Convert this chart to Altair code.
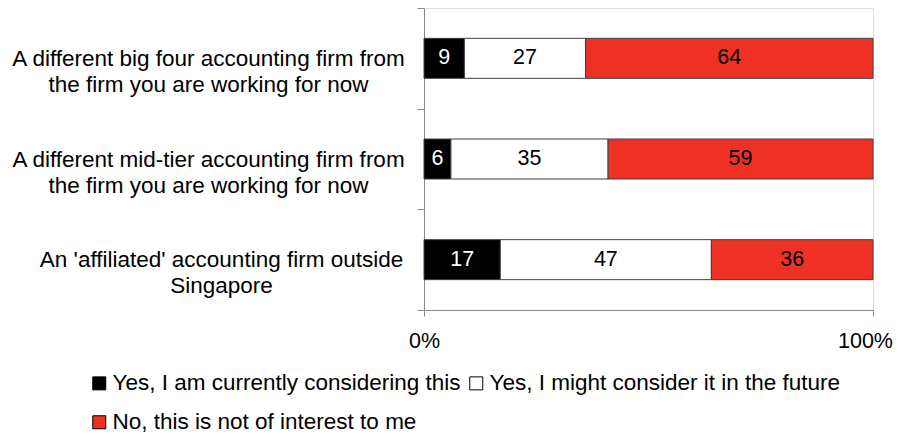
import altair as alt
import pandas as pd

categories = [
    "A different big four accounting firm from|the firm you are working for now",
    "A different mid-tier accounting firm from|the firm you are working for now",
    "An 'affiliated' accounting firm outside|Singapore",
]
responses = [
    "Yes, I am currently considering this",
    "Yes, I might consider it in the future",
    "No, this is not of interest to me",
]
current_vals = [9, 6, 17]
future_vals = [27, 35, 47]
no_vals = [64, 59, 36]
colors = ["#000000", "#FFFFFF", "#EE3124"]

rows = []
for i, c in enumerate(categories):
    for j, (r, v) in enumerate(zip(responses, [current_vals[i], future_vals[i], no_vals[i]])):
        rows.append({"category": c, "response": r, "value": v, "ord": j})
df = pd.DataFrame(rows)

FONT = "Liberation Sans"

base = alt.Chart(df).transform_stack(
    stack="value", groupby=["category"], as_=["start", "end"],
    sort=[alt.SortField("ord", order="ascending")]
).transform_calculate(mid="(datum.start + datum.end) / 2")

y_enc = alt.Y(
    "category:N", sort=categories, title=None,
    scale=alt.Scale(paddingInner=0, paddingOuter=0),
    axis=alt.Axis(
        labelExpr="split(datum.label, '|')", labelFont=FONT, labelFontSize=22.5,
        labelColor="#000000", labelLineHeight=26,
        labelPadding={"condition": {"test": "indexof(datum.label, 'Singapore') >= 0", "value": 196},
                      "value": 209},
        labelLimit=600,
        tickBand="extent", tickSize=7, tickColor="#888888", domainColor="#888888",
        labelAlign="center", labelBaseline="middle",
    ),
)

bars = base.mark_bar(size=40, stroke="#404040", strokeWidth=1).encode(
    y=y_enc,
    x=alt.X("start:Q", title=None,
            scale=alt.Scale(domain=[0, 100], nice=False),
            axis=alt.Axis(values=[0, 100], labelExpr="datum.value + '%'", grid=False,
                          labelFont=FONT, labelFontSize=21.5, labelColor="#000000",
                          tickSize=6, tickColor="#888888", domainColor="#888888",
                          labelPadding=14, labelFlush=False,
                          labelOffset={"condition": {"test": "datum.value == 100", "value": -8},
                                       "value": 0})),
    x2="end:Q",
    color=alt.Color("response:N", sort=responses,
                    scale=alt.Scale(domain=responses, range=colors),
                    legend=alt.Legend(
                        title=None, orient="none", legendX=-336, legendY=364,
                        columns=2, direction="horizontal",
                        symbolType="square", symbolSize=169, symbolStrokeColor="#000000",
                        symbolStrokeWidth=1, labelFont=FONT, labelFontSize=22.5,
                        labelColor="#000000", rowPadding=16, columnPadding=4,
                        labelOffset=2, labelLimit=600,
                    )),
    order=alt.Order("ord:Q"),
)

texts = base.mark_text(font=FONT, fontSize=21.5, baseline="middle", align="center").encode(
    y=alt.Y("category:N", sort=categories),
    x=alt.X("mid:Q"),
    text=alt.Text("value:Q"),
    color=alt.condition(alt.datum.ord == 0, alt.value("#FFFFFF"), alt.value("#000000")),
)

chart = alt.layer(bars, texts).properties(
    width=449, height=302,
    autosize=alt.AutoSizeParams(type="none"),
    padding={"left": 416, "top": 0, "right": 38, "bottom": 127},
).configure_view(stroke=None).configure(background="#FFFFFF")

chart.save("out.html", embed_options={"renderer": "svg", "actions": False})
